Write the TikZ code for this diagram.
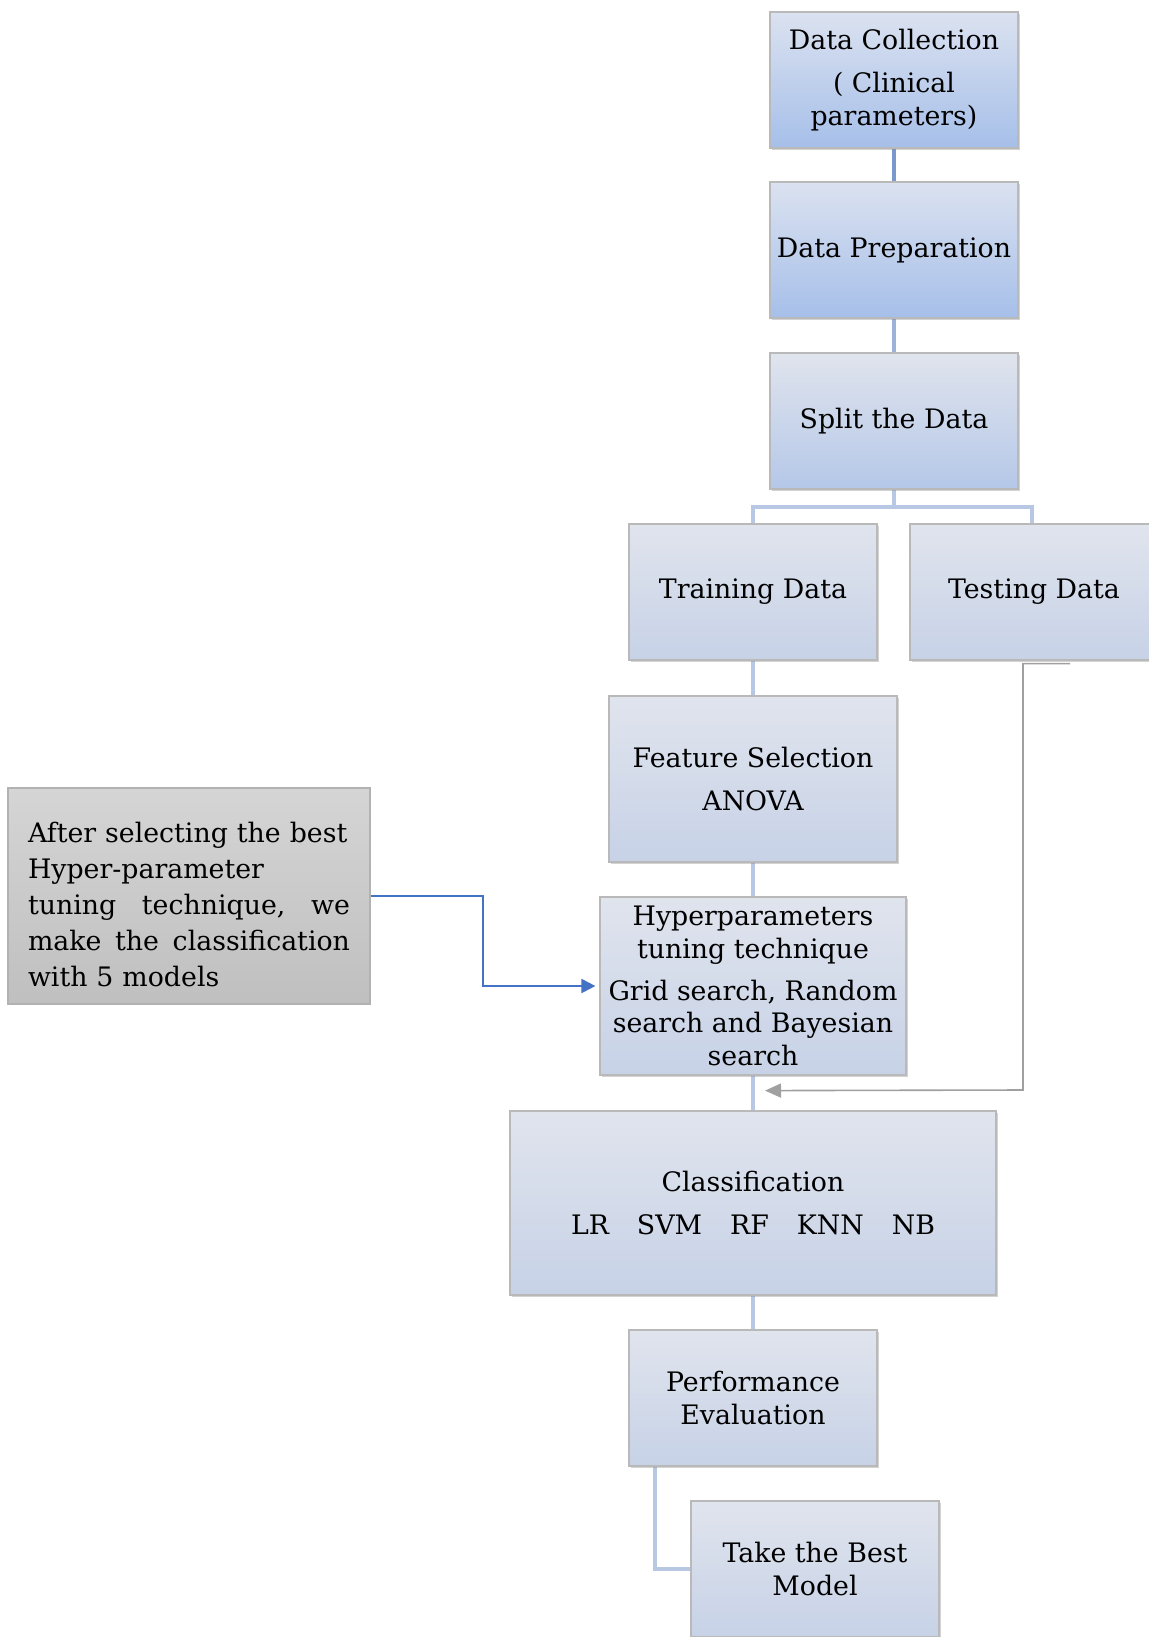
\documentclass[tikz,border=0pt]{standalone}
\usepackage{fontspec}
\setmainfont{DejaVu Serif}
\usepackage{tikz}
\usetikzlibrary{arrows.meta, positioning, shadows, calc, backgrounds}
\usepackage{xcolor}

\definecolor{topblue}{RGB}{219,226,240}
\definecolor{botblue}{RGB}{166,191,233}
\definecolor{toplite}{RGB}{224,228,237}
\definecolor{botlite}{RGB}{199,210,231}
\definecolor{linkdark}{RGB}{122,153,204}
\definecolor{linklite}{RGB}{184,199,227}
\definecolor{noteblue}{RGB}{68,114,196}
\definecolor{retgray}{RGB}{160,160,160}

\begin{document}
\begin{tikzpicture}[
  x=0.5pt, y=-0.5pt,
  stage/.style={rectangle, draw=gray!55, line width=0.6pt,
                top color=toplite, bottom color=botlite,
                drop shadow={shadow xshift=1.2pt, shadow yshift=-1.2pt, opacity=0.35},
                minimum width=124pt, minimum height=68pt, inner sep=2pt,
                align=center, font=\fontsize{13.4}{16.2}\selectfont},
  bluestage/.style={stage, top color=topblue, bottom color=botblue},
  note/.style={rectangle, draw=gray!60, line width=0.6pt,
               top color=gray!33, bottom color=gray!50,
               minimum width=181pt, minimum height=108pt, inner sep=0pt,
               text width=161pt, align=left,
               font=\fontsize{13.4}{17.9}\selectfont},
  link/.style={draw=linklite, line width=2pt},
  ret/.style={draw=retgray, line width=0.8pt, -{Triangle[length=8pt,width=7pt]}},
  fb/.style={draw=noteblue, line width=1pt, -{Triangle[length=7pt,width=7pt]}}
]

\clip (0,0) rectangle (1149,1637);

% Stages
\node[bluestage] (coll) at (894,80) {Data Collection\\[5.5pt] ( Clinical\\ parameters)};
\node[bluestage] (prep) at (894,250) {Data Preparation};
\node[stage, top color=toplite, bottom color=botblue!55!botlite] (split) at (894,421) {Split the Data};
\node[stage] (train) at (753,592) {Training Data};
\node[stage] (test) at (1034,592) {Testing Data};
\node[stage, minimum width=144pt, minimum height=83pt] (feat) at (753,779) {Feature Selection\\[5.5pt] ANOVA};
\node[stage, minimum width=153pt, minimum height=89pt] (hyper) at (753,986)
  {Hyperparameters\\ tuning technique\\[5pt] Grid search, Random\\ search and Bayesian\\ search};
\node[stage, minimum width=243pt, minimum height=92pt] (clf) at (753,1203)
  {Classification\\[5.5pt] LR\hskip14pt SVM\hskip14pt RF\hskip14pt KNN\hskip14pt NB};
\node[stage] (perf) at (753,1398) {Performance\\ Evaluation};
\node[stage] (best) at (815,1569) {Take the Best\\ Model};

% Side note
\node[note] (hint) at (189,896) {\rule{0pt}{18.6pt}After selecting the best\\ Hyper-parameter\\
  tuning\hfill technique,\hfill we\\ make\hfill the\hfill classification\\ with 5 models};

% Connectors
\coordinate (fork) at (894,507);
\coordinate (back) at (1023,1090);
\begin{scope}[on background layer]
\draw[link, draw=linkdark] (coll.south) -- (prep.north);
\draw[link, draw=linkdark!45!linklite] (prep.south) -- (split.north);
\draw[link] (split.south) -- (fork) -| (train.north);
\draw[link] (fork) -| ([xshift=-1pt]test.north);
\draw[link] (train.south) -- (feat.north);
\draw[link] (feat.south) -- (hyper.north);
\draw[link] (hyper.south) -- (clf.north);
\draw[link] (clf.south) -- (perf.north);
\draw[link] ([xshift=-49pt]perf.south) |- (best.west);
\end{scope}
\draw[fb] (hint.east) -- ++(112,0) |- ([xshift=-2pt]hyper.west);
\draw[ret] ([shift={(36,3)}]test.south) -| (back) -- ([shift={(12,15)}]hyper.south);

\end{tikzpicture}
\end{document}
